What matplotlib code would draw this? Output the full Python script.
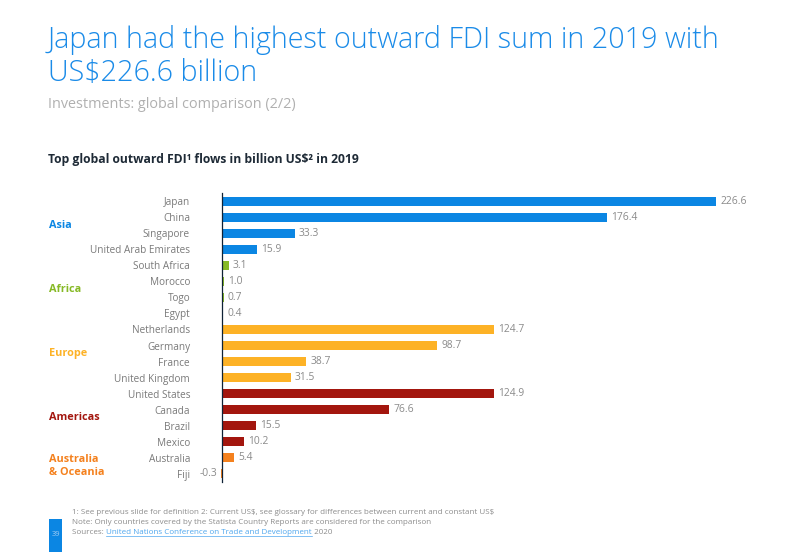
import matplotlib
matplotlib.use('Agg')
import matplotlib.pyplot as plt
import matplotlib.transforms as mtransforms
from matplotlib.patches import Rectangle
from matplotlib.lines import Line2D

plt.rcParams['font.family'] = ['Open Sans', 'DejaVu Sans']

# Data
countries = ['Japan', 'China', 'Singapore', 'United Arab Emirates',
             'South Africa', 'Morocco', 'Togo', 'Egypt',
             'Netherlands', 'Germany', 'France', 'United Kingdom',
             'United States', 'Canada', 'Brazil', 'Mexico',
             'Australia', 'Fiji']
values = [226.6, 176.4, 33.3, 15.9,
          3.1, 1.0, 0.7, 0.4,
          124.7, 98.7, 38.7, 31.5,
          124.9, 76.6, 15.5, 10.2,
          5.4, -0.3]
regions = ['Asia', 'Africa', 'Europe', 'Americas', 'Australia\n& Oceania']
region_sizes = [4, 4, 4, 4, 2]
region_colors = ['#0B86E3', '#86B925', '#FDB226', '#A3160E', '#F4811E']

bar_colors = []
for size, col in zip(region_sizes, region_colors):
    bar_colors += [col] * size

W, H = 798, 552
fig = plt.figure(figsize=(W / 100, H / 100), dpi=100)
fig.patch.set_facecolor('white')

# axes placement in pixels
ax_left, ax_right, ax_top, ax_bot = 222, 760, 193, 482
ax = fig.add_axes([ax_left / W, 1 - ax_bot / H,
                   (ax_right - ax_left) / W, (ax_bot - ax_top) / H])

y = list(range(len(countries)))
ax.barh(y, values, height=0.56, color=bar_colors, clip_on=False)
ax.set_xlim(0, (ax_right - ax_left) / 2.18)
ax.set_ylim(len(countries) - 0.5, -0.5)

for s in ['top', 'right', 'bottom']:
    ax.spines[s].set_visible(False)
ax.spines['left'].set_color('#0F2236')
ax.spines['left'].set_linewidth(0.9)
ax.set_xticks([])
ax.set_yticks(y)
ax.set_yticklabels(countries, fontsize=7.2, color='#7A7A7A')
ax.tick_params(axis='y', length=0, pad=23)

for yi, v in zip(y, values):
    if v >= 0:
        ax.annotate(f'{v:.1f}', (v, yi), xytext=(3, 0), textcoords='offset points',
                    va='center', ha='left', fontsize=7.4, color='#8A8A8A')
    else:
        ax.annotate(f'{v:.1f}', (0, yi), xytext=(-3, 0), textcoords='offset points',
                    va='center', ha='right', fontsize=7.4, color='#8A8A8A')

# region labels
trans = mtransforms.blended_transform_factory(fig.transFigure, ax.transData)
start = 0
for name, size, col in zip(regions, region_sizes, region_colors):
    mid = start + (size - 1) / 2
    fig.text(49 / W, mid, name, transform=trans, fontsize=7.8, fontweight='bold',
             color=col, va='center', ha='left', linespacing=1.3)
    start += size

# titles
fig.text(48 / W, 1 - 40 / H, 'Japan had the highest outward FDI sum in 2019 with',
         fontsize=20.7, fontweight='light', color='#1A8BE8', va='center', ha='left')
fig.text(48 / W, 1 - 73 / H, 'US$226.6 billion',
         fontsize=20.7, fontweight='light', color='#1A8BE8', va='center', ha='left')
fig.text(48 / W, 1 - 104 / H, 'Investments: global comparison (2/2)',
         fontsize=10.4, color='#B0B0B0', va='center', ha='left')
fig.text(48 / W, 1 - 159 / H, 'Top global outward FDI\u00b9 flows in billion US$\u00b2 in 2019',
         fontsize=8.7, fontweight='bold', color='#1E2A36', va='center', ha='left')

# footnotes
fn_color = '#8C8C8C'
fn_size = 5.75
fig.text(72 / W, 1 - 513 / H,
         '1: See previous slide for definition 2: Current US\\$, see glossary for differences between current and constant US\\$',
         fontsize=fn_size, color=fn_color, va='center', ha='left')
fig.text(72 / W, 1 - 523 / H,
         'Note: Only countries covered by the Statista Country Reports are considered for the comparison',
         fontsize=fn_size, color=fn_color, va='center', ha='left')
t1 = fig.text(72 / W, 1 - 533 / H, 'Sources: ', fontsize=fn_size, color=fn_color,
              va='center', ha='left')
fig.canvas.draw()
r = fig.canvas.get_renderer()
bb = t1.get_window_extent(r)
t2 = fig.text(bb.x1 / W, 1 - 533 / H, 'United Nations Conference on Trade and Development',
              fontsize=fn_size, color='#4FA7EE', va='center', ha='left')
bb2 = t2.get_window_extent(r)
fig.add_artist(Line2D([bb2.x0 / W, bb2.x1 / W], [(bb2.y0 + 0.5) / H] * 2,
                      transform=fig.transFigure, color='#4FA7EE', linewidth=0.5))
fig.text(bb2.x1 / W, 1 - 533 / H, ' 2020', fontsize=fn_size, color=fn_color,
         va='center', ha='left')

# page number box
fig.add_artist(Rectangle((49 / W, 0), 13 / W, 33 / H, transform=fig.transFigure,
                         facecolor='#0B86E3', edgecolor='none'))
fig.text(55.5 / W, 1 - 534 / H, '39', fontsize=5.4, color='#9FCBF2',
         va='center', ha='center')

fig.savefig('out.png', dpi=100)
